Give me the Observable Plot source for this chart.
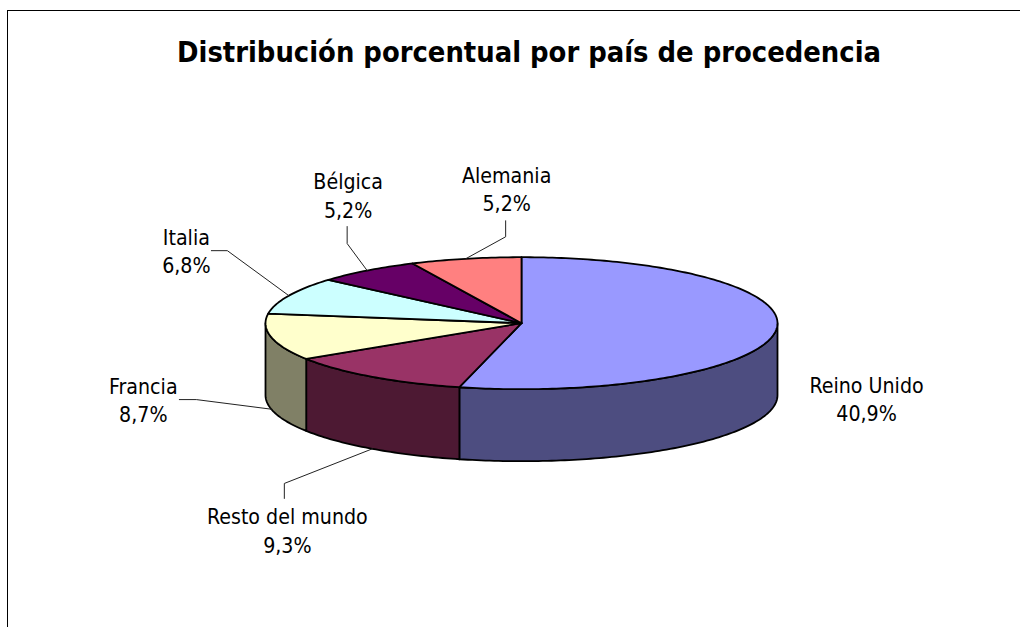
<!DOCTYPE html>
<html lang="es">
<head>
<meta charset="utf-8">
<script src="https://cdn.jsdelivr.net/npm/d3@7"></script>
<script src="https://cdn.jsdelivr.net/npm/@observablehq/plot@0.6"></script>
<style>
  html, body { margin: 0; padding: 0; background: #fff; overflow: hidden; }
  #frame { position: absolute; left: 7px; top: 10px; width: 1013px; height: 617px;
           border-left: 1.5px solid #000; border-top: 1.5px solid #000; box-sizing: border-box; }
  #title { position: absolute; left: 128px; top: 35px; width: 802px; text-align: center; white-space: nowrap; z-index: 2;
           font: bold 28.8px "DejaVu Sans Condensed", "DejaVu Sans", sans-serif; color: #000; }
  #chart { position: absolute; left: 0; top: 0; }
</style>
</head>
<body>
<div id="frame"></div>
<div id="title">Distribución porcentual por país de procedencia</div>
<div id="chart"></div>
<script>
const titleText = "Distribución porcentual por país de procedencia";
const countries = ["Reino Unido", "Resto del mundo", "Francia", "Italia", "Bélgica", "Alemania"];
const percentLabels = ["40,9%", "9,3%", "8,7%", "6,8%", "5,2%", "5,2%"];
// Share of the full pie each slice occupies.
const sliceShares = [53.9, 12.0, 11.4, 9.1, 6.6, 7.0];
const topColors = ["#9999ff", "#993366", "#ffffcc", "#ccffff", "#660066", "#ff8080"];
const sideColors = ["#4d4d80", "#4d1933", "#808066", "#66807f", "#330033", "#804040"];

// Label placement, in pixels relative to the slice's rim point.
const labelOffsets = [[91, -5], [-85, 80.6], [-128, -10.6], [-102.5, -46], [-19, -76], [41, -71]];
const leaderElbows = [null, [-88, 34.6], [-75, -9.6], [-61.5, -45], [-20, -27], [40, -22]];
const leaderStubs = [null, [-88, 49.6], [-92, -9.6], [-77.5, -45], [-20, -44], [40, -38]];

// Pie geometry in unit coordinates: the scales below turn the unit ellipse into pixels.
const xRange = [265, 777];
const yRange = [388.7, 256.7];
const depth = 72 / 66;
const pxX = 2 / (xRange[1] - xRange[0]);
const pxY = 2 / (yRange[0] - yRange[1]);

const rim = (deg, drop = 0) => {
  const t = deg * Math.PI / 180;
  return { x: Math.sin(t), y: Math.cos(t) - drop };
};
const arc = (a, b, drop = 0) => {
  const n = Math.max(2, Math.ceil(Math.abs(b - a)));
  return d3.range(n + 1).map(i => rim(a + (b - a) * i / n, drop));
};

const total = d3.sum(sliceShares);
let running = 0;
const slices = countries.map((name, i) => {
  const start = running / total * 360;
  running += sliceShares[i];
  const end = running / total * 360;
  const mid = (start + end) / 2;
  const lowerHalf = mid > 90 && mid < 270;
  return { name, i, start, end, anchor: rim(mid, lowerHalf ? depth : 0) };
});

const shape = (points, fill) =>
  Plot.line([...points, points[0]], { x: "x", y: "y", fill, stroke: "#000", strokeWidth: 1.8, strokeLinejoin: "round" });

const marks = [];
// Visible outer wall: only the part of each slice in the front half of the pie.
for (const s of slices) {
  const a = Math.max(s.start, 90), b = Math.min(s.end, 270);
  if (b > a) marks.push(shape([...arc(a, b), ...arc(b, a, depth)], sideColors[s.i]));
}
// Top faces.
for (const s of slices) {
  marks.push(shape([{ x: 0, y: 0 }, ...arc(s.start, s.end)], topColors[s.i]));
}
// Leader lines.
for (const s of slices) {
  if (!leaderElbows[s.i]) continue;
  const at = ([dx, dy]) => ({ x: s.anchor.x + dx * pxX, y: s.anchor.y - dy * pxY });
  marks.push(Plot.line([s.anchor, at(leaderElbows[s.i]), at(leaderStubs[s.i])],
    { x: "x", y: "y", stroke: "#222", strokeWidth: 1 }));
}
// Labels.
for (const s of slices) {
  const [dx, dy] = labelOffsets[s.i];
  marks.push(Plot.text([s], {
    x: d => d.anchor.x, y: d => d.anchor.y, dx, dy,
    text: d => `${d.name}\n${percentLabels[d.i]}`,
    lineHeight: 1.33, fontSize: 21.2, fill: "#000",
    fontFamily: '"DejaVu Sans Condensed", "DejaVu Sans", sans-serif',
    textAnchor: "middle", lineAnchor: "middle"
  }));
}

document.getElementById("title").textContent = titleText;
const chart = Plot.plot({
  width: 1020, height: 627,
  margin: 0,
  style: { background: "transparent" },
  x: { domain: [-1, 1], range: xRange, axis: null },
  y: { domain: [-1, 1], range: yRange, axis: null },
  marks
});
document.getElementById("chart").appendChild(chart);
</script>
</body>
</html>
